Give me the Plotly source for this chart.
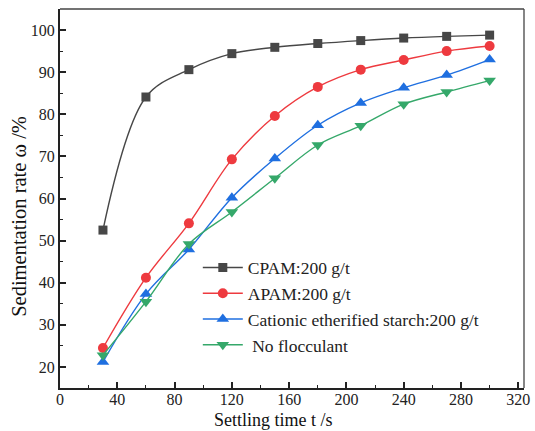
import plotly.graph_objects as go

# Settling time (s) and sedimentation rate (%) for each flocculant
time_s = [30, 60, 90, 120, 150, 180, 210, 240, 270, 300]
cpam = [52.5, 84.1, 90.6, 94.4, 95.9, 96.8, 97.5, 98.1, 98.5, 98.8]
apam = [24.5, 41.2, 54.1, 69.3, 79.6, 86.5, 90.6, 92.9, 95.0, 96.2]
starch = [21.2, 37.3, 47.9, 60.2, 69.5, 77.4, 82.7, 86.3, 89.3, 93.0]
none = [22.8, 35.5, 49.2, 56.8, 64.8, 72.7, 77.3, 82.4, 85.3, 88.0]

series_names = ["CPAM:200 g/t", "APAM:200 g/t",
                "Cationic etherified starch:200 g/t", " No flocculant"]
series_values = [cpam, apam, starch, none]
colors = ["#474747", "#ee3a3f", "#1f6fe0", "#35a86a"]
symbols = ["square", "circle", "triangle-up", "triangle-down"]
sizes = [9, 10, 11, 11]

x_ticks = [0, 40, 80, 120, 160, 200, 240, 280, 320]
y_ticks = [20, 30, 40, 50, 60, 70, 80, 90, 100]

SERIF = "Liberation Serif, Times New Roman, serif"

fig = go.Figure()
for name, vals, c, s, sz in zip(series_names, series_values, colors, symbols, sizes):
    fig.add_trace(go.Scatter(
        x=time_s, y=vals, name=name, mode="lines+markers",
        line=dict(color=c, width=1.4, shape="spline", smoothing=1.0),
        marker=dict(symbol=s, size=sz, color=c),
    ))

axis_common = dict(
    showline=True, linecolor="#222222", linewidth=2,
    ticks="inside", ticklen=6, tickwidth=1.5, tickcolor="#222222",
    showgrid=False, zeroline=False, ticklabeloverflow="allow",
    tickfont=dict(family=SERIF, size=16, color="#222222"),
)

fig.update_xaxes(
    range=[0, 324], tickvals=x_ticks, ticklabelstandoff=-4,
    minor=dict(ticks="inside", ticklen=3, tickwidth=1.2, dtick=20, tick0=0,
               tickcolor="#222222"),
    **axis_common,
)
fig.update_yaxes(
    range=[15, 105], tickvals=y_ticks,
    minor=dict(ticks="inside", ticklen=3, tickwidth=1.2, dtick=5, tick0=0,
               tickcolor="#222222"),
    **axis_common,
)

# axis titles
fig.add_annotation(text="Settling time t /s", xref="paper", yref="paper",
                   x=0.46, y=-0.1135, xanchor="center", yanchor="bottom",
                   showarrow=False, borderpad=0,
                   font=dict(family=SERIF, size=18, color="#111111"))
fig.add_annotation(text="Sedimentation rate ω /%", xref="paper", yref="paper",
                   x=-0.088, y=0.452, xanchor="center", yanchor="middle",
                   textangle=-90, showarrow=False,
                   font=dict(family=SERIF, size=20.5, color="#111111"))

# thin frame along the top and right of the plotting area
fig.add_shape(type="line", xref="paper", yref="paper", x0=0, x1=1, y0=1, y1=1,
              line=dict(color="#444444", width=1.3))
fig.add_shape(type="line", xref="paper", yref="paper", x0=1, x1=1, y0=0, y1=1,
              line=dict(color="#444444", width=1.3))

fig.update_layout(
    width=535, height=431,
    margin=dict(l=60, r=5, t=9, b=43),
    paper_bgcolor="white", plot_bgcolor="white",
    showlegend=True,
    legend=dict(x=0.297, y=0.365, xanchor="left", yanchor="top",
                bgcolor="rgba(0,0,0,0)", borderwidth=0,
                tracegroupgap=0, itemwidth=40,
                font=dict(family=SERIF, size=17.5, color="#222222")),
)

fig.write_html("out.html")
